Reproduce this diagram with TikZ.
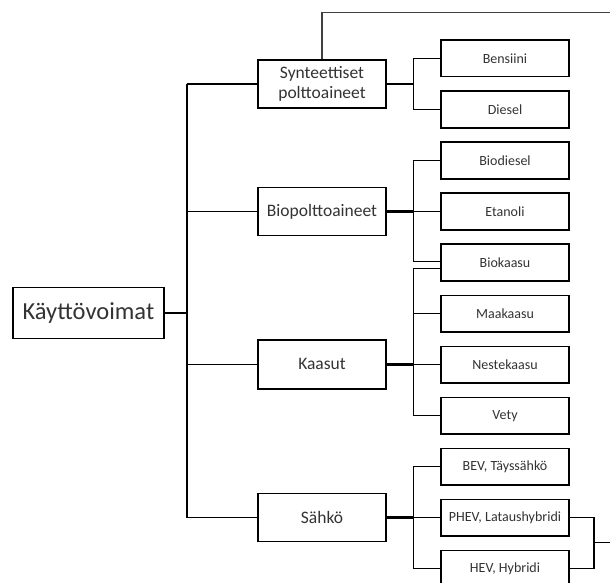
\documentclass[tikz,border=0pt]{standalone}
\usepackage{fontspec}
\setmainfont{Carlito}
\begin{document}
\begin{tikzpicture}[x=1pt,y=-1pt,
  box/.style={draw=black, line width=1.5pt, fill=white, inner sep=0pt, align=center, text=black!80},
  leaf/.style={box, minimum width=128pt, minimum height=36.7pt, font=\fontsize{14}{16}\selectfont},
  mid/.style={box, minimum width=128pt, minimum height=48pt, font=\fontsize{17.5}{20}\selectfont},
  root/.style={box, minimum width=151pt, minimum height=50.6pt, font=\fontsize{24.5}{28}\selectfont},
  link/.style={line width=1.1pt, black},
  heavy/.style={line width=2.6pt, black},
]
\clip (0,0) rectangle (610,583);
\fill[white] (0,0) rectangle (610,583);

% guide columns for the vertical bars
\coordinate (tr) at (187,0);
\coordinate (jx) at (413.8,0);
\coordinate (rx) at (594,0);

% root and second level
\node[root] (root) at (88.4,313) {Käyttövoimat};
\node[mid] (syn) at (322,84) {Synteettiset\\polttoaineet};
\node[mid] (bio) at (322,211.4) {Biopolttoaineet};
\node[mid, minimum height=49.3pt] (gas) at (322,364.4) {Kaasut};
\node[mid] (el) at (322,517.5) {Sähkö};

% third level, evenly spaced
\foreach \name/\txt [count=\k from 0] in {bens/Bensiini, dies/Diesel, bdie/Biodiesel,
    etan/Etanoli, bkaa/Biokaasu, maak/Maakaasu, nest/Nestekaasu, vety/Vety,
    bev/{BEV, Täyssähkö}, phev/{PHEV, Lataushybridi}, hev/{HEV, Hybridi}}
  \node[leaf] (\name) at (505,58.4+51.04*\k) {\txt};

% root to trunk
\draw[heavy] (root.east) -- (root.east -| tr);
\draw[link] (syn.west -| tr) -- (el.west -| tr);
\foreach \m in {syn,bio,gas,el}
  \draw[link] (\m.west -| tr) -- (\m.west);

% thick stubs from second level to junctions
\foreach \m in {syn,bio,gas,el}
  \draw[heavy] (\m.east) -- (\m.east -| jx);

% Synteettiset polttoaineet
\draw[link] (bens.west) -- (bens.west -| jx) -- (dies.west -| jx) -- (dies.west);

% Biopolttoaineet
\draw[link] (bdie.west) -- (bdie.west -| jx) -- ([yshift=0.7pt]bkaa.west -| jx) -- ([yshift=0.7pt]bkaa.west);
\draw[link] (etan.west -| jx) -- (etan.west);

% Kaasut
\draw[link] ([yshift=-6pt]bkaa.west) -- ([yshift=-6pt]bkaa.west -| jx) -- (vety.west -| jx) -- (vety.west);
\draw[link] (maak.west -| jx) -- (maak.west);
\draw[link] (nest.west -| jx) -- (nest.west);

% Sähkö
\draw[link] (bev.west) -- (bev.west -| jx) -- (hev.west -| jx) -- (hev.west);
\draw[link] (phev.west -| jx) -- (phev.west);

% hybrids joined on the right
\coordinate (rj) at (594,542.3);
\coordinate (rout) at (612,542.3);
\draw[link] (phev.east) -- (phev.east -| rx) -- (hev.east -| rx) -- (hev.east);
\draw[link] (rj) -- (rout);

% line leaving the top of Synteettiset polttoaineet
\coordinate (topR) at (612,12.3);
\draw[line width=1.2pt, black!75] (syn.north) |- (topR);
\end{tikzpicture}
\end{document}
